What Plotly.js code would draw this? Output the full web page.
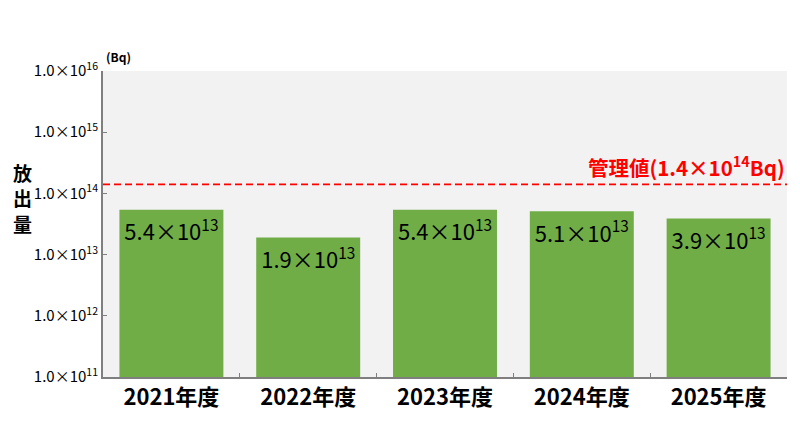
<!DOCTYPE html>
<html><head><meta charset="utf-8">
<script src="https://cdn.plot.ly/plotly-3.0.1.min.js"></script>
<style>body{margin:0;background:#fff}#c{width:800px;height:428px}</style>
</head><body><div id="c"></div>
<script>
const categories = ["2021年度","2022年度","2023年度","2024年度","2025年度"];
const values = [5.4e13, 1.9e13, 5.4e13, 5.1e13, 3.9e13];
const valueLabels = ["5.4×10<sup>13</sup>","1.9×10<sup>13</sup>","5.4×10<sup>13</sup>","5.1×10<sup>13</sup>","3.9×10<sup>13</sup>"];
const limitValue = 1.4e14;
const limitLabel = "管理値(1.4×10<sup>14</sup>Bq)";
const tickVals = [1e11,1e12,1e13,1e14,1e15,1e16];
const tickText = ["1.0×10<sup>11</sup>","1.0×10<sup>12</sup>","1.0×10<sup>13</sup>","1.0×10<sup>14</sup>","1.0×10<sup>15</sup>","1.0×10<sup>16</sup>"];
const yTitleChars = ["放","出","量"];
const unit = "(Bq)";

const F = "Noto Sans CJK JP, sans-serif";

const trace = {
  type: "bar", x: categories, y: values,
  marker: {color: "#70ad47", line: {width: 0}},
  text: valueLabels, textposition: "inside", insidetextanchor: "end",
  constraintext: "none",
  textfont: {family: F, size: 22, color: "#000"},
  hoverinfo: "none"
};

const annotations = [
  {xref: "paper", x: 1, xanchor: "right", yref: "y", y: Math.log10(limitValue), yanchor: "bottom",
   yshift: 0, text: limitLabel, showarrow: false,
   font: {family: F, size: 20.5, color: "#ff0000", weight: "bold"}},
  {xref: "paper", x: 0, xanchor: "left", yref: "paper", y: 1, yanchor: "bottom", xshift: 1, yshift: 4,
   text: unit, showarrow: false, font: {family: F, size: 12, color: "#000", weight: "bold"}}
];
yTitleChars.forEach((ch, i) => {
  annotations.push({xref: "paper", x: 0, xanchor: "center", xshift: -81,
    yref: "paper", y: 0.585, yanchor: "middle", yshift: (1 - i) * 25.5,
    text: ch, showarrow: false, font: {family: F, size: 19, color: "#000", weight: "bold"}});
});

const layout = {
  width: 800, height: 428,
  margin: {l: 103, r: 13, t: 71, b: 51},
  paper_bgcolor: "#fff", plot_bgcolor: "#f2f2f2",
  bargap: 0.24, showlegend: false,
  xaxis: {
    type: "category", showline: true, linecolor: "#7f7f7f", linewidth: 2,
    ticks: "inside", tickson: "boundaries", ticklen: 4, tickcolor: "#7f7f7f",
    tickfont: {family: F, size: 22, color: "#000", weight: "bold"},
    showgrid: false, zeroline: false
  },
  yaxis: {
    type: "log", range: [11, 16], showline: true, linecolor: "#7f7f7f", linewidth: 2,
    ticks: "inside", ticklen: 4, tickcolor: "#7f7f7f",
    tickvals: tickVals, ticktext: tickText,
    tickfont: {family: F, size: 15, color: "#000"},
    showgrid: false, zeroline: false
  },
  shapes: [{
    type: "line", xref: "paper", x0: 0, x1: 1, yref: "y", y0: limitValue, y1: limitValue,
    line: {color: "#ff0000", width: 1.8, dash: "7px,4px"}
  }],
  annotations: annotations
};

Plotly.newPlot("c", [trace], layout, {staticPlot: true});
</script></body></html>
